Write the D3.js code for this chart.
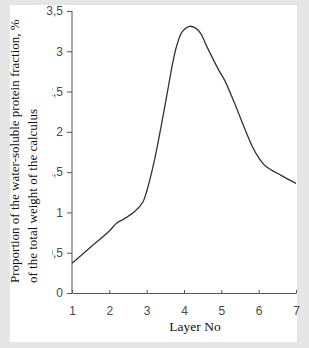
<!DOCTYPE html>
<html><head><meta charset="utf-8">
<script src="https://cdn.jsdelivr.net/npm/d3@7"></script>
<style>
html,body{margin:0;padding:0;background:#e6e6e6;}
svg{display:block;}
</style></head>
<body>
<svg id="chart" width="309" height="348"></svg>
<script>
// Data
const layers = [1, 1.5, 2, 2.2, 2.4, 2.7, 2.9, 3.0, 3.2, 3.4, 3.55, 3.7, 3.8, 3.95, 4.15, 4.3, 4.45, 4.6, 4.95, 5.1, 5.35, 5.6, 5.85, 6.0, 6.2, 6.6, 7];
const fraction = [0.37, 0.57, 0.77, 0.87, 0.92, 1.02, 1.13, 1.26, 1.63, 2.10, 2.48, 2.86, 3.06, 3.24, 3.31, 3.29, 3.22, 3.07, 2.75, 2.63, 2.36, 2.07, 1.80, 1.68, 1.57, 1.46, 1.36];
const xTicks = [1, 2, 3, 4, 5, 6, 7];
const yTicks = [0, 0.5, 1, 1.5, 2, 2.5, 3, 3.5];
const yTickLabels = ["0", "0,5", "1", "1,5", "2", "2,5", "3", "3,5"];
const xTitle = "Layer No";
const yTitleLines = ["Proportion of the water-soluble protein fraction, %", "of the total weight of the calculus"];

const svg = d3.select("#chart");
svg.append("rect").attr("x", 10).attr("y", 5).attr("width", 287).attr("height", 337).attr("fill", "#fff");

const x = d3.scaleLinear().domain([1, 7]).range([72, 296]);
const y = d3.scaleLinear().domain([0, 3.5]).range([293, 11]);

// y axis
const yAxis = svg.append("g").attr("transform", "translate(72,0)")
  .call(d3.axisLeft(y).tickValues(yTicks).tickSize(5).tickPadding(4)
    .tickFormat((d, i) => yTickLabels[i]));
yAxis.select(".domain").attr("stroke", "#555").attr("d", "M0," + y(3.5) + "V" + y(0));
yAxis.selectAll(".tick line").attr("stroke", "#555");
yAxis.selectAll("text").attr("font-family", "Liberation Sans, Arial, sans-serif")
  .attr("font-size", 12).attr("fill", "#4a4a4a");

// x axis
const xAxis = svg.append("g").attr("transform", "translate(0,293)")
  .call(d3.axisBottom(x).tickValues(xTicks).tickSizeInner(-3).tickSizeOuter(0).tickPadding(13)
    .tickFormat(d3.format("d")));
xAxis.select(".domain").attr("stroke", "#555");
xAxis.selectAll(".tick line").attr("stroke", "#555");
xAxis.selectAll("text").attr("font-family", "Liberation Sans, Arial, sans-serif")
  .attr("font-size", 12).attr("fill", "#4a4a4a");

// y title with white box (overlaps tick labels like the original)
svg.append("rect").attr("x", 10).attr("y", 27).attr("width", 42).attr("height", 259).attr("fill", "#fff");
const yt = svg.append("g").attr("transform", "translate(0,283) rotate(-90)");
yTitleLines.forEach((t, i) => {
  yt.append("text").attr("x", 0).attr("y", 18.5 + i * 18.5)
    .attr("font-family", "Liberation Serif, Times New Roman, serif")
    .attr("font-size", 13).attr("fill", "#111").text(t);
});

svg.append("text").attr("x", 195).attr("y", 331).attr("text-anchor", "middle")
  .attr("font-family", "Liberation Serif, Times New Roman, serif")
  .attr("font-size", 13.5).attr("fill", "#111").text(xTitle);

// line
const pts = layers.map((l, i) => [l, fraction[i]]);
svg.append("path").datum(pts)
  .attr("fill", "none").attr("stroke", "#333").attr("stroke-width", 1.3)
  .attr("d", d3.line().x(d => x(d[0])).y(d => y(d[1])).curve(d3.curveCatmullRom));
</script>
</body></html>
